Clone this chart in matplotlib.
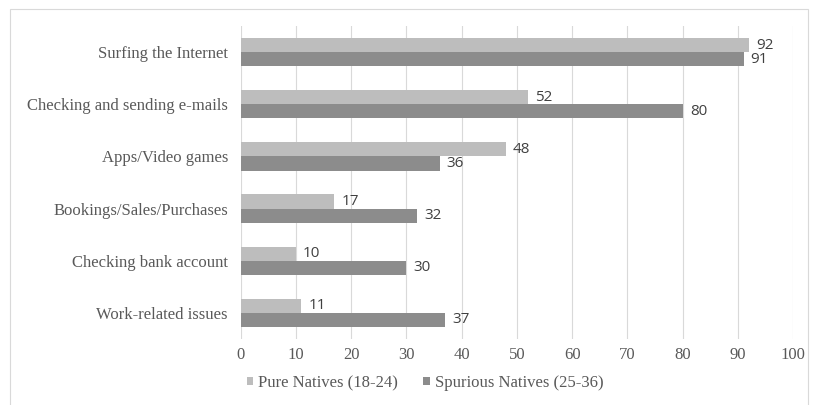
import numpy as np
import matplotlib.pyplot as plt
from matplotlib.patches import Rectangle

categories = ["Surfing the Internet", "Checking and sending e-mails", "Apps/Video games",
              "Bookings/Sales/Purchases", "Checking bank account", "Work-related issues"]
pure = [92, 52, 48, 17, 10, 11]
spurious = [91, 80, 36, 32, 30, 37]
series_names = ["Pure Natives (18-24)", "Spurious Natives (25-36)"]
xticks = [0, 10, 20, 30, 40, 50, 60, 70, 80, 90, 100]

light = "#bdbdbd"
dark = "#8c8c8c"
txt = "#595959"

fig = plt.figure(figsize=(8.14, 4.05), dpi=100)
ax = fig.add_axes([240.5 / 814, 1 - 339 / 405, (793.3 - 240.5) / 814, (339 - 26) / 405])

# outer chart border
fig.patches.append(Rectangle((10 / 814, -0.1), 798 / 814, 1.1 - 9 / 405,
                             transform=fig.transFigure, fill=False,
                             edgecolor="#d9d9d9", linewidth=0.8))

y = np.arange(len(categories))
h = 0.27
b1 = ax.barh(y - h / 2, pure, height=h, color=light, label=series_names[0])
b2 = ax.barh(y + h / 2, spurious, height=h, color=dark, label=series_names[1])

for bars, vals in [(b1, pure), (b2, spurious)]:
    for bar, v in zip(bars, vals):
        ax.text(v + 1.3, bar.get_y() + bar.get_height() / 2, str(v),
                va="center", ha="left", fontsize=11, color="#404040",
                family="Open Sans")

ax.set_ylim(len(categories) - 0.5, -0.5)
ax.set_xlim(0, 100)
ax.set_yticks(y)
ax.set_yticklabels(categories, family="Liberation Serif", fontsize=12, color=txt)
ax.set_xticks(xticks)
ax.set_xticklabels([str(t) for t in xticks], family="Liberation Serif", fontsize=12, color=txt)
ax.tick_params(length=0, pad=9)
ax.tick_params(axis="x", pad=6)
for s in ax.spines.values():
    s.set_visible(False)
ax.grid(axis="x", color="#d9d9d9", linewidth=0.8)
ax.set_axisbelow(True)

leg = ax.legend(loc="center", bbox_to_anchor=(425 / 814, 1 - 383 / 405),
                bbox_transform=fig.transFigure, ncol=2, frameon=False,
                prop={"family": "Liberation Serif", "size": 12},
                handlelength=0.4, handleheight=0.4, handletextpad=0.3, columnspacing=1.5)
for t in leg.get_texts():
    t.set_color(txt)

fig.savefig("out.png", dpi=100)
